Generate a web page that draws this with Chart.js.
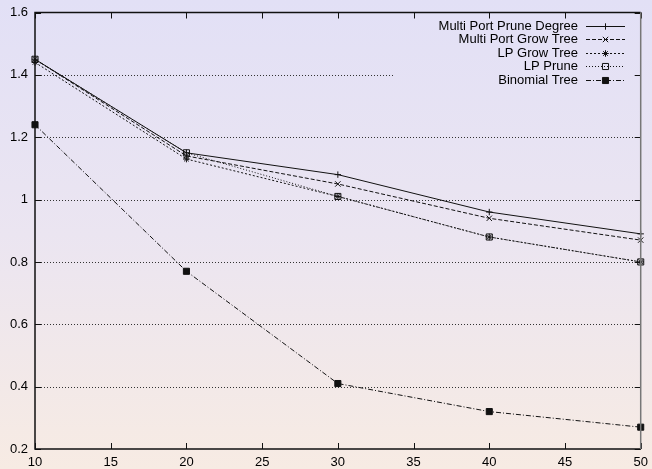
<!DOCTYPE html>
<html>
<head>
<meta charset="utf-8">
<script src="https://cdn.jsdelivr.net/npm/chart.js@4.4.0/dist/chart.umd.min.js"></script>
<style>
    html, body { margin: 0; padding: 0; }
    body {
        width: 652px; height: 469px; overflow: hidden;
        background: linear-gradient(to bottom, #e2e0f6 0%, #ebe5f1 50%, #f7ebe3 100%);
    }
    canvas { display: block; }
</style>
</head>
<body>
<canvas id="chart" width="652" height="469"></canvas>
<script>
/* data */
const xValues = [10, 20, 30, 40, 50];
const seriesNames = ["Multi Port Prune Degree", "Multi Port Grow Tree", "LP Grow Tree", "LP Prune", "Binomial Tree"];
const multiPortPruneDegree = [1.45, 1.15, 1.08, 0.96, 0.89];
const multiPortGrowTree    = [1.45, 1.14, 1.05, 0.94, 0.87];
const lpGrowTree           = [1.44, 1.13, 1.01, 0.88, 0.80];
const lpPrune              = [1.45, 1.15, 1.01, 0.88, 0.80];
const binomialTree         = [1.24, 0.77, 0.41, 0.32, 0.27];
const xTicks = { min: 10, max: 50, step: 5 };
const yTicks = { min: 0.2, max: 1.6, step: 0.2 };

const INK = "#111";

/* styles, one per series */
const styles = [
    { dash: [],           point: "cross",    radius: 3.2, fill: "transparent" },
    { dash: [4, 2],       point: "crossRot", radius: 3.8, fill: "transparent" },
    { dash: [2, 2],       point: "star",     radius: 3.3, fill: "transparent" },
    { dash: [1, 2],       point: "rect",     radius: 4.3, fill: "transparent" },
    { dash: [5, 2, 1, 2], point: "rect",     radius: 4.3, fill: INK }
];
const allSeries = [multiPortPruneDegree, multiPortGrowTree, lpGrowTree, lpPrune, binomialTree];

const datasets = allSeries.map((vals, i) => ({
    label: seriesNames[i],
    data: xValues.map((x, j) => ({ x: x, y: vals[j] })),
    showLine: true,
    borderColor: INK,
    borderWidth: 1,
    borderDash: styles[i].dash,
    pointStyle: styles[i].point,
    pointRadius: styles[i].radius,
    pointBorderColor: INK,
    pointBorderWidth: 1,
    pointBackgroundColor: styles[i].fill,
    clip: false
}));

/* legend / grid geometry */
const legendLeft = 395, legendBottom = 88;
const legendTextRight = 578, sampleX0 = 586, sampleX1 = 625;
const legendRow0 = 25.5, legendRowStep = 13.5;

/* gnuplot-ish frame: dotted grid, inward ticks, key */
const gnuFrame = {
    id: "gnuFrame",
    beforeDatasetsDraw(chart) {
        const { ctx, chartArea: a, scales: { y } } = chart;
        ctx.save();
        ctx.strokeStyle = "#333";
        ctx.lineWidth = 1;
        ctx.setLineDash([1, 2]);
        y.ticks.forEach(t => {
            if (t.value <= yTicks.min + 1e-9 || t.value >= yTicks.max - 1e-9) return;
            const py = Math.round(y.getPixelForValue(t.value)) + 0.5;
            const xEnd = py < legendBottom ? legendLeft : a.right;
            ctx.beginPath();
            ctx.moveTo(a.left, py);
            ctx.lineTo(xEnd, py);
            ctx.stroke();
        });
        ctx.restore();
    },
    afterDatasetsDraw(chart) {
        const { ctx, chartArea: a, scales: { x, y } } = chart;
        ctx.save();
        ctx.setLineDash([]);
        ctx.lineWidth = 1;
        ctx.strokeStyle = INK;
        const tl = 6;
        // ticks on all four sides
        x.ticks.forEach(t => {
            const px = Math.round(x.getPixelForValue(t.value)) + 0.5;
            ctx.beginPath();
            ctx.moveTo(px, a.bottom); ctx.lineTo(px, a.bottom - tl);
            ctx.moveTo(px, a.top); ctx.lineTo(px, a.top + tl);
            ctx.stroke();
        });
        y.ticks.forEach(t => {
            const py = Math.round(y.getPixelForValue(t.value)) + 0.5;
            ctx.beginPath();
            ctx.moveTo(a.left, py); ctx.lineTo(a.left + tl, py);
            ctx.moveTo(a.right, py); ctx.lineTo(a.right - tl, py);
            ctx.stroke();
        });
        // border
        ctx.lineWidth = 1.5;
        ctx.beginPath();
        ctx.moveTo(a.right, a.top);
        ctx.lineTo(a.left, a.top);
        ctx.lineTo(a.left, a.bottom);
        ctx.lineTo(a.right, a.bottom);
        ctx.stroke();
        ctx.strokeStyle = "#777";
        ctx.beginPath();
        ctx.moveTo(a.right, a.top);
        ctx.lineTo(a.right, a.bottom);
        ctx.stroke();

        // key
        ctx.font = "13px 'Liberation Sans', Arial, sans-serif";
        ctx.textAlign = "right";
        ctx.textBaseline = "middle";
        ctx.fillStyle = "#000";
        chart.data.datasets.forEach((ds, i) => {
            const ry = legendRow0 + i * legendRowStep;
            ctx.fillText(ds.label, legendTextRight, ry + 0.5);
            ctx.strokeStyle = INK;
            ctx.lineWidth = 1;
            ctx.setLineDash(ds.borderDash);
            ctx.beginPath();
            ctx.moveTo(sampleX0, Math.round(ry) + 0.5);
            ctx.lineTo(sampleX1, Math.round(ry) + 0.5);
            ctx.stroke();
            ctx.setLineDash([]);
            ctx.fillStyle = ds.pointBackgroundColor;
            Chart.helpers.drawPoint(ctx, {
                pointStyle: ds.pointStyle, radius: ds.pointRadius, rotation: 0, borderWidth: 1
            }, (sampleX0 + sampleX1) / 2, Math.round(ry) + 0.5);
            ctx.fillStyle = "#000";
        });
        ctx.restore();
    }
};

const tickFont = { family: "'Liberation Sans', Arial, sans-serif", size: 13 };

/* kill the label overhang padding so the plot box lands where gnuplot put it */
function noOverhang(s) {
    s.paddingTop = 0; s.paddingBottom = 0; s.paddingLeft = 0; s.paddingRight = 0;
}

new Chart(document.getElementById("chart"), {
    type: "scatter",
    data: { datasets: datasets },
    options: {
        responsive: false,
        animation: false,
        layout: { padding: { top: 12.5, right: 11.3, left: 0, bottom: 0 } },
        plugins: { legend: { display: false }, tooltip: { enabled: false } },
        scales: {
            x: {
                type: "linear",
                min: xTicks.min, max: xTicks.max,
                grid: { display: false, drawTicks: false },
                border: { display: false },
                ticks: { stepSize: xTicks.step, color: "#000", font: tickFont, padding: 6, maxRotation: 0 },
                afterFit: s => { s.height = 20; noOverhang(s); }
            },
            y: {
                min: yTicks.min, max: yTicks.max,
                grid: { display: false, drawTicks: false },
                border: { display: false },
                ticks: {
                    stepSize: yTicks.step, color: "#000", font: tickFont, padding: 7,
                    callback: v => String(+v.toFixed(1))
                },
                afterFit: s => { s.width = 35; noOverhang(s); }
            }
        }
    },
    plugins: [gnuFrame]
});
</script>
</body>
</html>
